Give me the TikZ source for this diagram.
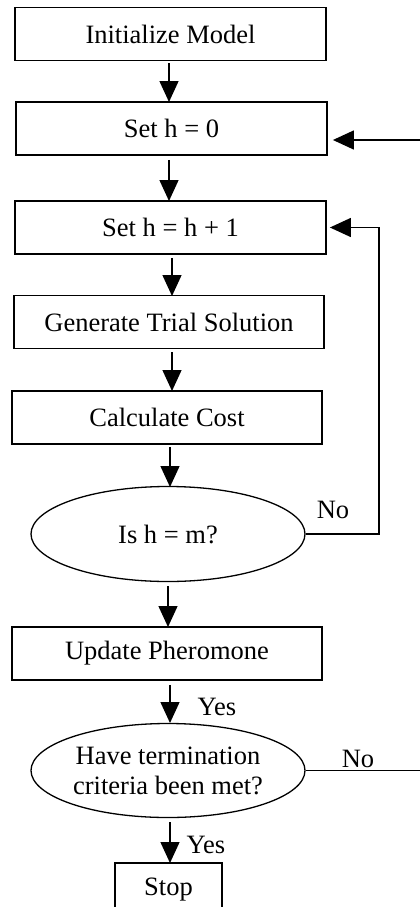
\documentclass[tikz,border=0pt]{standalone}
\usepackage{fontspec}
\setmainfont{Liberation Serif}
\usetikzlibrary{arrows.meta,shapes.geometric}
\begin{document}
\begin{tikzpicture}[x=1pt,y=-1pt,
  every node/.style={font=\fontsize{26.5}{30}\selectfont},
  stepbox/.style={draw,line width=1.8pt,rectangle,minimum height=53pt,inner sep=0pt},
  testell/.style={draw,line width=1.3pt,ellipse,minimum width=274pt,minimum height=95pt,inner sep=0pt,align=center},
  arr/.style={line width=1.4pt,-{Triangle[length=21pt,width=19pt]}},
  ln/.style={line width=1.4pt},
  lbl/.style={inner sep=0pt}]
\useasboundingbox (0,0) rectangle (420,907);
\clip (0,0) rectangle (420,907);
\fill[white] (0,0) rectangle (420,907);

% process steps
\node[stepbox,minimum width=311pt] (init) at (170.5,34) {Initialize Model};
\node[stepbox,minimum width=311pt] (zero) at (171.5,128.5) {Set h = 0};
\node[stepbox,minimum width=311pt] (inc) at (170.5,227.5) {Set h = h + 1};
\node[stepbox,minimum width=310pt] (trial) at (169,322) {Generate Trial Solution};
\node[stepbox,minimum width=310pt] (cost) at (167,417.5) {Calculate Cost};
\node[testell] (ism) at (168,534) {Is h = m?};
\node[stepbox,minimum width=310pt] (pher) at (167,653.5) {Update Pheromone};
\node[testell,minimum height=94pt] (term) at (168,770.5) {Have termination\\criteria been met?};
\node[stepbox,minimum width=107pt] (stop) at (168.5,889.5) {Stop};

% edge coordinates for the loops
\coordinate (outB) at (425,0);
\coordinate (outT) at (425,140);
\coordinate (loopR) at (379,0);

% main flow
\draw[arr,shorten <=2pt] (init.south -| 169,0) -- (169,102);
\draw[arr,shorten <=4pt] (zero.south -| 169,0) -- (169,201);
\draw[arr,shorten <=3pt] (inc.south -| 172,0) -- (172,296);
\draw[arr,shorten <=3pt] (trial.south -| 172,0) -- (172,391);
\draw[arr,shorten <=2pt] (cost.south -| 170,0) -- (170,487);
\draw[arr,shorten <=4pt] (ism.south -| 168,0) -- (168,627);
\draw[arr,shorten <=4pt] (pher.south -| 170,0) -- (170,723);
\draw[arr,shorten <=4pt] (term.south -| 170,0) -- (170,863);

% inner loop: back to h + 1
\draw[arr,shorten >=3pt] (ism.east) -- (loopR |- ism.east) -- (loopR |- inc.east) -- (inc.east);
% outer loop: back to h = 0
\draw[ln] (term.east) -- (outB |- term.east);
\draw[arr,shorten >=5pt] (outT) -- (zero.east |- outT);

% branch labels
\node[lbl] (no1) at (333,510) {No};
\node[lbl] (no2) at (358,759) {No};
\node[lbl] (yes1) at (217,707) {Yes};
\node[lbl] (yes2) at (206,845) {Yes};
\end{tikzpicture}
\end{document}
